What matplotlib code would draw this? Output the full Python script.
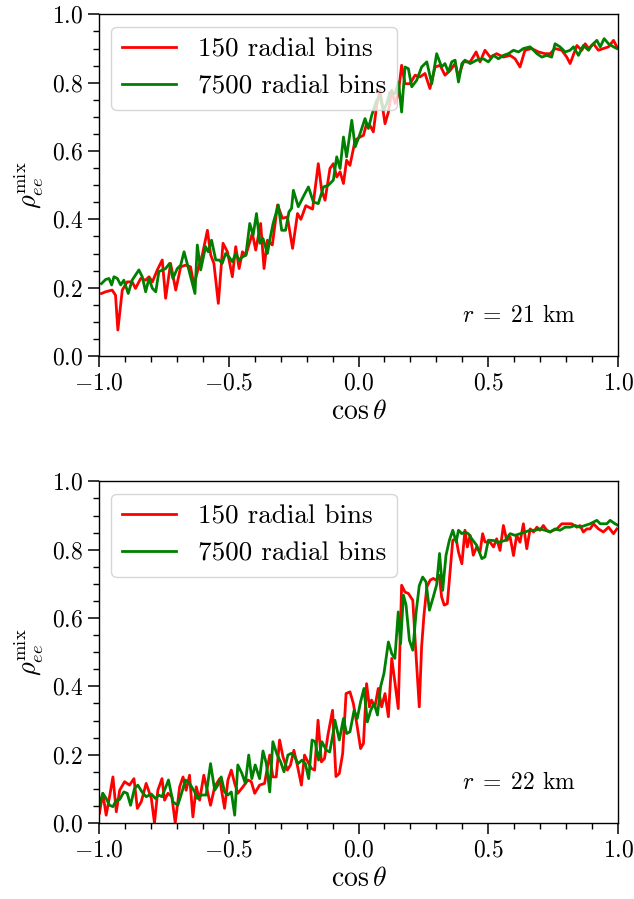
import numpy as np
import matplotlib
matplotlib.use('Agg')
import matplotlib.pyplot as plt
from matplotlib.ticker import MultipleLocator

plt.rcParams['font.family'] = 'serif'
plt.rcParams['font.serif'] = ['cmr10']
plt.rcParams['mathtext.fontset'] = 'cm'
plt.rcParams['axes.formatter.use_mathtext'] = True

# r = 21 km, 150 radial bins
top_red_x = [-0.99, -0.974, -0.949, -0.936, -0.927, -0.910, -0.891, -0.872, -0.859, -0.839, -0.820, -0.807,
             -0.794, -0.775, -0.756, -0.743, -0.724, -0.704, -0.685, -0.666, -0.647, -0.634, -0.614, -0.602,
             -0.582, -0.569, -0.557, -0.540, -0.522, -0.505, -0.486, -0.473, -0.460, -0.447, -0.434, -0.409,
             -0.396, -0.377, -0.364, -0.351, -0.332, -0.312, -0.293, -0.274, -0.254, -0.235, -0.222, -0.203,
             -0.177, -0.155, -0.142, -0.129, -0.110, -0.097, -0.084, -0.071, -0.058, -0.046, -0.033, -0.013,
             0.006, 0.019, 0.031, 0.044, 0.057, 0.070, 0.083, 0.102, 0.115, 0.128, 0.141, 0.153, 0.166,
             0.179, 0.198, 0.218, 0.237, 0.256, 0.275, 0.295, 0.314, 0.333, 0.353, 0.372, 0.385, 0.404,
             0.430, 0.453, 0.468, 0.487, 0.507, 0.532, 0.558, 0.584, 0.603, 0.622, 0.641, 0.667, 0.693,
             0.718, 0.738, 0.757, 0.783, 0.802, 0.815, 0.841, 0.860, 0.873, 0.886, 0.905, 0.924, 0.943,
             0.963, 0.982, 0.995]
top_red_y = [0.183, 0.188, 0.193, 0.178, 0.076, 0.193, 0.217, 0.217, 0.198, 0.227, 0.222, 0.232,
             0.217, 0.252, 0.281, 0.169, 0.271, 0.193, 0.261, 0.266, 0.261, 0.208, 0.266, 0.295,
             0.368, 0.295, 0.271, 0.154, 0.330, 0.305, 0.232, 0.320, 0.256, 0.305, 0.295, 0.359,
             0.310, 0.388, 0.256, 0.339, 0.325, 0.442, 0.403, 0.407, 0.315, 0.417, 0.400, 0.440,
             0.430, 0.563, 0.485, 0.456, 0.549, 0.563, 0.524, 0.539, 0.505, 0.573, 0.558, 0.632,
             0.641, 0.646, 0.680, 0.675, 0.656, 0.734, 0.778, 0.680, 0.714, 0.778, 0.739, 0.768, 0.851,
             0.797, 0.797, 0.822, 0.817, 0.827, 0.783, 0.846, 0.851, 0.822, 0.836, 0.856, 0.817, 0.861,
             0.861, 0.890, 0.861, 0.895, 0.875, 0.885, 0.875, 0.880, 0.870, 0.846, 0.895, 0.900, 0.890,
             0.885, 0.885, 0.900, 0.895, 0.875, 0.856, 0.909, 0.895, 0.914, 0.900, 0.914, 0.895, 0.900,
             0.905, 0.924, 0.905]

# r = 21 km, 7500 radial bins
top_green_x = [-0.99, -0.974, -0.961, -0.951, -0.942, -0.929, -0.916, -0.904, -0.887, -0.872, -0.859, -0.846,
               -0.833, -0.820, -0.807, -0.794, -0.781, -0.769, -0.743, -0.728, -0.715, -0.698, -0.685, -0.672,
               -0.660, -0.640, -0.630, -0.621, -0.608, -0.589, -0.579, -0.566, -0.550, -0.537, -0.525, -0.512,
               -0.499, -0.486, -0.473, -0.460, -0.447, -0.434, -0.419, -0.406, -0.393, -0.380, -0.368, -0.351,
               -0.342, -0.329, -0.309, -0.296, -0.281, -0.268, -0.258, -0.251, -0.232, -0.213, -0.193, -0.174,
               -0.155, -0.135, -0.116, -0.097, -0.084, -0.071, -0.058, -0.046, -0.026, -0.013, 0.006, 0.025,
               0.038, 0.051, 0.070, 0.083, 0.096, 0.109, 0.121, 0.141, 0.154, 0.166, 0.179, 0.192, 0.205,
               0.224, 0.243, 0.263, 0.282, 0.301, 0.320, 0.333, 0.346, 0.359, 0.372, 0.385, 0.398, 0.410,
               0.430, 0.455, 0.481, 0.500, 0.520, 0.539, 0.558, 0.577, 0.597, 0.616, 0.635, 0.661, 0.687,
               0.706, 0.725, 0.744, 0.757, 0.776, 0.796, 0.815, 0.828, 0.847, 0.866, 0.886, 0.898, 0.918,
               0.931, 0.946, 0.963, 0.982, 0.995]
top_green_y = [0.212, 0.224, 0.227, 0.208, 0.232, 0.227, 0.208, 0.222, 0.183, 0.222, 0.237, 0.252,
               0.232, 0.188, 0.227, 0.198, 0.188, 0.247, 0.256, 0.271, 0.227, 0.256, 0.266, 0.305,
               0.271, 0.212, 0.183, 0.325, 0.252, 0.320, 0.305, 0.339, 0.281, 0.281, 0.271, 0.300,
               0.290, 0.276, 0.300, 0.281, 0.290, 0.295, 0.388, 0.354, 0.417, 0.330, 0.344, 0.300,
               0.339, 0.388, 0.442, 0.368, 0.368, 0.422, 0.432, 0.485, 0.437, 0.466, 0.495, 0.451,
               0.446, 0.495, 0.500, 0.515, 0.583, 0.549, 0.641, 0.583, 0.690, 0.612, 0.651, 0.695,
               0.666, 0.705, 0.749, 0.758, 0.719, 0.739, 0.773, 0.768, 0.802, 0.714, 0.846, 0.841, 0.788,
               0.807, 0.846, 0.861, 0.797, 0.885, 0.846, 0.856, 0.831, 0.861, 0.866, 0.802, 0.856, 0.866,
               0.856, 0.866, 0.870, 0.861, 0.880, 0.870, 0.880, 0.885, 0.895, 0.890, 0.900, 0.905, 0.885,
               0.875, 0.880, 0.875, 0.914, 0.905, 0.890, 0.895, 0.905, 0.880, 0.909, 0.895, 0.909, 0.924,
               0.905, 0.929, 0.914, 0.905, 0.900]

# r = 22 km, 150 radial bins
bot_red_x = [-0.998, -0.985, -0.972, -0.959, -0.946, -0.933, -0.920, -0.901, -0.882, -0.865, -0.852, -0.837,
             -0.818, -0.798, -0.786, -0.773, -0.757, -0.747, -0.734, -0.719, -0.706, -0.689, -0.676, -0.664,
             -0.651, -0.638, -0.625, -0.612, -0.596, -0.583, -0.570, -0.554, -0.535, -0.516, -0.503, -0.490,
             -0.477, -0.465, -0.445, -0.426, -0.413, -0.400, -0.381, -0.362, -0.342, -0.330, -0.317, -0.304,
             -0.291, -0.274, -0.262, -0.249, -0.236, -0.220, -0.208, -0.195, -0.182, -0.169, -0.156, -0.143,
             -0.131, -0.118, -0.100, -0.087, -0.074, -0.061, -0.048, -0.033, -0.020, -0.007, 0.008, 0.019,
             0.031, 0.042, 0.050, 0.063, 0.076, 0.089, 0.102, 0.115, 0.128, 0.140, 0.153, 0.166, 0.179,
             0.192, 0.209, 0.218, 0.227, 0.234, 0.243, 0.252, 0.263, 0.276, 0.288, 0.299, 0.311, 0.320,
             0.330, 0.342, 0.353, 0.363, 0.376, 0.385, 0.398, 0.410, 0.419, 0.430, 0.442, 0.455, 0.468,
             0.478, 0.487, 0.507, 0.520, 0.532, 0.545, 0.558, 0.571, 0.584, 0.597, 0.609, 0.622, 0.635,
             0.648, 0.661, 0.674, 0.687, 0.699, 0.712, 0.725, 0.738, 0.751, 0.764, 0.783, 0.802, 0.821,
             0.841, 0.853, 0.866, 0.879, 0.892, 0.905, 0.924, 0.943, 0.963, 0.982, 0.995]
bot_red_y = [0.028, 0.087, 0.023, 0.077, 0.135, 0.033, 0.096, 0.121, 0.111, 0.130, 0.043, 0.062,
             0.116, 0.072, 0.0, 0.096, 0.130, 0.067, 0.087, 0.077, 0.0, 0.106, 0.135, 0.096,
             0.140, 0.018, 0.106, 0.067, 0.140, 0.096, 0.052, 0.106, 0.130, 0.043, 0.126, 0.155,
             0.116, 0.087, 0.106, 0.126, 0.121, 0.087, 0.111, 0.116, 0.199, 0.135, 0.135, 0.243,
             0.194, 0.155, 0.170, 0.213, 0.170, 0.111, 0.199, 0.179, 0.160, 0.155, 0.301, 0.179,
             0.189, 0.257, 0.330, 0.136, 0.145, 0.204, 0.379, 0.384, 0.350, 0.292, 0.218, 0.233,
             0.408, 0.340, 0.360, 0.340, 0.394, 0.340, 0.379, 0.311, 0.482, 0.413, 0.335, 0.696, 0.676,
             0.672, 0.652, 0.535, 0.428, 0.340, 0.516, 0.608, 0.691, 0.711, 0.716, 0.711, 0.725, 0.662,
             0.638, 0.642, 0.740, 0.828, 0.832, 0.793, 0.759, 0.857, 0.808, 0.842, 0.784, 0.808, 0.793,
             0.847, 0.823, 0.822, 0.808, 0.832, 0.798, 0.871, 0.827, 0.837, 0.783, 0.842, 0.822, 0.876,
             0.803, 0.861, 0.852, 0.866, 0.857, 0.871, 0.857, 0.852, 0.857, 0.861, 0.876, 0.876, 0.876,
             0.866, 0.871, 0.852, 0.861, 0.861, 0.876, 0.861, 0.852, 0.866, 0.847, 0.861]

# r = 22 km, 7500 radial bins
bot_green_x = [-0.998, -0.985, -0.972, -0.959, -0.946, -0.933, -0.920, -0.904, -0.891, -0.878, -0.863, -0.850,
               -0.834, -0.818, -0.798, -0.783, -0.770, -0.757, -0.732, -0.715, -0.696, -0.680, -0.667, -0.651,
               -0.631, -0.621, -0.606, -0.587, -0.570, -0.554, -0.542, -0.529, -0.516, -0.503, -0.490, -0.477,
               -0.465, -0.449, -0.436, -0.423, -0.411, -0.398, -0.381, -0.368, -0.355, -0.342, -0.330, -0.313,
               -0.300, -0.287, -0.272, -0.259, -0.246, -0.233, -0.218, -0.205, -0.192, -0.179, -0.167, -0.154,
               -0.141, -0.124, -0.111, -0.098, -0.091, -0.074, -0.058, -0.046, -0.033, -0.017, -0.005, 0.008,
               0.021, 0.034, 0.047, 0.060, 0.073, 0.085, 0.098, 0.115, 0.128, 0.140, 0.153, 0.162, 0.173,
               0.183, 0.196, 0.209, 0.222, 0.234, 0.247, 0.260, 0.273, 0.288, 0.301, 0.312, 0.324, 0.337,
               0.350, 0.363, 0.376, 0.385, 0.398, 0.410, 0.423, 0.436, 0.455, 0.475, 0.487, 0.500, 0.520,
               0.539, 0.564, 0.584, 0.603, 0.622, 0.641, 0.661, 0.680, 0.699, 0.718, 0.738, 0.757, 0.776,
               0.796, 0.815, 0.834, 0.853, 0.873, 0.892, 0.918, 0.931, 0.956, 0.969, 0.988, 1.0]
bot_green_y = [0.052, 0.087, 0.072, 0.052, 0.048, 0.067, 0.069, 0.091, 0.087, 0.052, 0.101, 0.111,
               0.091, 0.077, 0.085, 0.072, 0.082, 0.077, 0.126, 0.062, 0.052, 0.091, 0.126, 0.116,
               0.091, 0.072, 0.082, 0.082, 0.174, 0.096, 0.111, 0.135, 0.091, 0.082, 0.091, 0.023,
               0.170, 0.145, 0.116, 0.199, 0.130, 0.170, 0.130, 0.211, 0.174, 0.091, 0.238, 0.199,
               0.179, 0.150, 0.199, 0.204, 0.194, 0.174, 0.184, 0.174, 0.130, 0.243, 0.238, 0.184,
               0.238, 0.213, 0.208, 0.262, 0.301, 0.243, 0.306, 0.262, 0.267, 0.330, 0.306, 0.355,
               0.394, 0.296, 0.330, 0.350, 0.316, 0.399, 0.438, 0.530, 0.496, 0.482, 0.618, 0.525, 0.667,
               0.638, 0.535, 0.506, 0.618, 0.695, 0.720, 0.706, 0.623, 0.662, 0.698, 0.789, 0.681, 0.784,
               0.828, 0.857, 0.823, 0.857, 0.847, 0.852, 0.847, 0.832, 0.813, 0.774, 0.779, 0.828, 0.827,
               0.822, 0.827, 0.847, 0.842, 0.847, 0.852, 0.857, 0.857, 0.861, 0.857, 0.852, 0.861, 0.857,
               0.866, 0.866, 0.871, 0.866, 0.871, 0.876, 0.886, 0.876, 0.876, 0.886, 0.876, 0.871]

panels = [
    (top_red_x, top_red_y, top_green_x, top_green_y, r'$r \;=\; 21$ km'),
    (bot_red_x, bot_red_y, bot_green_x, bot_green_y, r'$r \;=\; 22$ km'),
]

fig = plt.figure(figsize=(6.34, 8.99), dpi=100)
rects = [[0.156, 0.604, 0.819, 0.380], [0.156, 0.0845, 0.819, 0.380]]

for rect, (rx, ry, gx, gy, label) in zip(rects, panels):
    ax = fig.add_axes(rect)
    ax.plot(rx, ry, color='red', lw=2, label='150 radial bins')
    ax.plot(gx, gy, color='green', lw=2, label='7500 radial bins')
    ax.set_xlim(-1, 1)
    ax.set_ylim(0, 1)
    ax.xaxis.set_major_locator(MultipleLocator(0.5))
    ax.xaxis.set_minor_locator(MultipleLocator(0.1))
    ax.yaxis.set_major_locator(MultipleLocator(0.2))
    ax.yaxis.set_minor_locator(MultipleLocator(0.05))
    ax.tick_params(which='major', length=8, width=1.1, labelsize=17)
    ax.tick_params(which='minor', length=4.5, width=1.0)
    for sp in ax.spines.values():
        sp.set_linewidth(1.0)
    ax.set_xlabel(r'$\cos\theta$', fontsize=20, labelpad=3)
    ax.set_ylabel(r'$\rho_{ee}^{\rm mix}$', fontsize=19)
    ax.text(0.4, 0.1, label, fontsize=17)
    ax.legend(loc='upper left', fontsize=19.5, borderaxespad=0.45)

plt.savefig('out.png', dpi=100)
